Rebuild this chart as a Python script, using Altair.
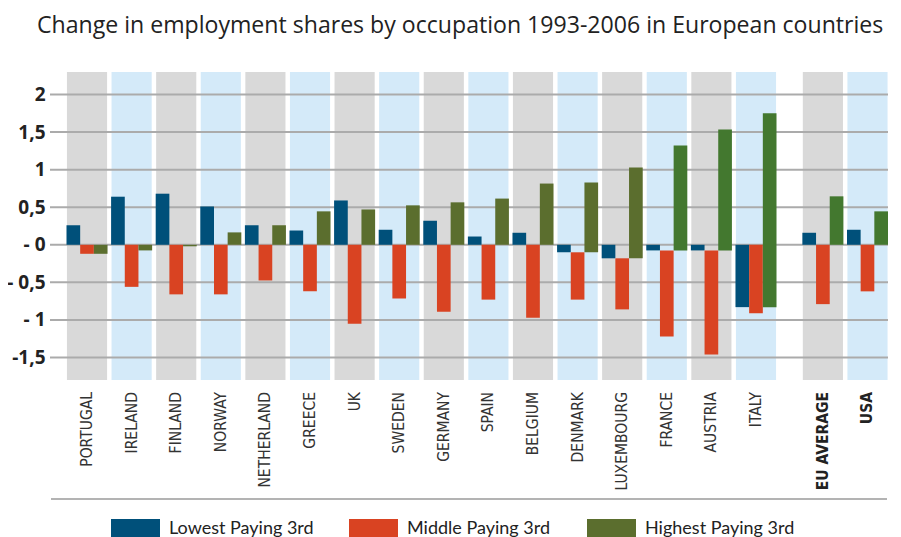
import altair as alt
import pandas as pd

# ---------------- data ----------------
countries = ["PORTUGAL", "IRELAND", "FINLAND", "NORWAY", "NETHERLAND", "GREECE", "UK",
             "SWEDEN", "GERMANY", "SPAIN", "BELGIUM", "DENMARK", "LUXEMBOURG", "FRANCE",
             "AUSTRIA", "ITALY"]
comparisons = ["EU AVERAGE", "USA"]
series = ["Lowest Paying 3rd", "Middle Paying 3rd", "Highest Paying 3rd"]

lowest = [0.26, 0.64, 0.68, 0.51, 0.26, 0.19, 0.59, 0.20, 0.32, 0.11, 0.16, -0.10, -0.18,
          -0.075, -0.075, -0.83, 0.16, 0.20]
middle = [-0.12, -0.56, -0.66, -0.66, -0.475, -0.62, -1.05, -0.715, -0.89, -0.73, -0.97,
          -0.73, -0.86, -1.22, -1.46, -0.91, -0.79, -0.62]
highest = [-0.12, -0.075, -0.02, 0.165, 0.26, 0.445, 0.47, 0.525, 0.565, 0.615, 0.815,
           0.83, 1.03, 1.32, 1.535, 1.75, 0.645, 0.445]
# where the middle / highest bars start (the original chart starts some of them below zero)
middle_base = [0, 0, 0, 0, 0, 0, 0, 0, 0, 0, 0, -0.10, -0.18, -0.075, -0.075, 0, 0, 0]
highest_base = [0, 0, 0, 0, 0, 0, 0, 0, 0, 0, 0, -0.10, -0.18, -0.075, -0.075, -0.83, 0, 0]

y_ticks = [2, 1.5, 1, 0.5, 0, -0.5, -1, -1.5]
y_tick_labels = ["2", "1,5", "1", "0,5", "- 0", "- 0,5", "- 1", "-1,5"]

title_text = "Change in employment shares by occupation 1993-2006 in European countries"

# ---------------- styling / layout ----------------
W, H = 838, 308
Y_DOMAIN = [-1.8, 2.3]
X_DOMAIN = [-0.83, 17.96]
GROUP_GAP = 0.5
COL_HALF = 0.45
BAR_HALF = 0.46
BLUE, RED, OLIVE, GREEN = "#00507a", "#d94322", "#5b6e2e", "#43782f"
BG_GRAY, BG_BLUE = "#d9d9d9", "#d4eaf9"
greener_highest = ["FRANCE", "AUSTRIA", "ITALY", "EU AVERAGE", "USA"]
LABEL_FONT = "Liberation Sans Narrow, DejaVu Sans Condensed, Roboto, sans-serif"

names = countries + comparisons
pos = list(range(len(countries))) + [len(countries) + GROUP_GAP + i for i in range(len(comparisons))]
shade = [i % 2 for i in range(len(countries))] + [i % 2 for i in range(len(comparisons))]

bg_df = pd.DataFrame({
    "country": names, "pos": pos,
    "shade": ["a" if s == 0 else "b" for s in shade],
    "x0": [p - COL_HALF for p in pos], "x1": [p + COL_HALF for p in pos],
    "top": [Y_DOMAIN[1]] * len(names), "bottom": [Y_DOMAIN[0]] * len(names),
})

bar_w = 2 * BAR_HALF / 3
rows = []
for i, name in enumerate(names):
    vals = [lowest[i], middle[i], highest[i]]
    bases = [0, middle_base[i], highest_base[i]]
    for k, s in enumerate(series):
        key = s
        if k == 2 and name in greener_highest:
            key = "Highest Paying 3rd (alt)"
        x0 = pos[i] - BAR_HALF + k * bar_w
        rows.append(dict(country=name, series=s, key=key, value=vals[k], base=bases[k],
                         x0=x0, x1=x0 + bar_w))
bars_df = pd.DataFrame(rows)

label_df = pd.DataFrame({"country": names, "pos": pos,
                         "bold": [False] * len(countries) + [True] * len(comparisons)})
grid_df = pd.DataFrame({"tick": y_ticks})

xs = alt.Scale(domain=X_DOMAIN, nice=False, zero=False)
ys = alt.Scale(domain=Y_DOMAIN, nice=False, zero=False)

label_expr = ""
for v, l in zip(y_ticks, y_tick_labels):
    label_expr += f"datum.value == {v} ? '{l}' : "
label_expr += "''"

bg = alt.Chart(bg_df).mark_rect().encode(
    x=alt.X("x0:Q", scale=xs, axis=None),
    x2="x1:Q",
    y=alt.Y("top:Q", scale=ys,
            axis=alt.Axis(values=y_ticks, labelExpr=label_expr, grid=False, domain=False,
                          ticks=False, labelFontSize=19, labelFontWeight="bold",
                          labelColor="#222222", labelPadding=5, title=None,
                          labelFont="Open Sans")),
    y2="bottom:Q",
    color=alt.Color("shade:N", scale=alt.Scale(domain=["a", "b"], range=[BG_GRAY, BG_BLUE]),
                    legend=None),
)

grid = alt.Chart(grid_df).mark_rule(color="#ababab", strokeWidth=2).encode(
    y=alt.Y("tick:Q", scale=ys)
)

bars = alt.Chart(bars_df).mark_rect().encode(
    x=alt.X("x0:Q", scale=xs, axis=None),
    x2="x1:Q",
    y=alt.Y("value:Q", scale=ys),
    y2="base:Q",
    color=alt.Color(
        "key:N",
        scale=alt.Scale(domain=series + ["Highest Paying 3rd (alt)"],
                        range=[BLUE, RED, OLIVE, GREEN]),
        legend=alt.Legend(orient="none", legendX=61, legendY=432, direction="horizontal",
                          values=series, title=None, symbolType="M-1,-0.4H1V0.4H-1Z",
                          symbolSize=2401, symbolStrokeWidth=0, symbolOpacity=1,
                          labelFont="Lato", labelFontSize=18, labelColor="#222222",
                          labelOffset=9, columnPadding=30, gridAlign="all", labelLimit=400),
    ),
)

labels_normal = alt.Chart(label_df[~label_df["bold"]]).mark_text(
    angle=270, align="right", baseline="middle", fontSize=15.5, font=LABEL_FONT,
    color="#333333"
).encode(x=alt.X("pos:Q", scale=xs), y=alt.value(H + 12), text="country:N")

labels_bold = alt.Chart(label_df[label_df["bold"]]).mark_text(
    angle=270, align="right", baseline="middle", fontSize=15.5, font=LABEL_FONT,
    fontWeight="bold", color="#222222"
).encode(x=alt.X("pos:Q", scale=xs), y=alt.value(H + 12), text="country:N")

title = alt.Chart(pd.DataFrame({"t": [title_text]})).mark_text(
    align="left", baseline="alphabetic", fontSize=23.1, font="Open Sans", color="#222222"
).encode(x=alt.value(-13), y=alt.value(-39), text="t:N")

bottom_line = alt.Chart(pd.DataFrame({"t": [0]})).mark_rule(
    color="#9a9a9a", strokeWidth=1.5
).encode(x=alt.value(1), x2=alt.value(W - 1), y=alt.value(427))

chart = alt.layer(bg, grid, bars, labels_normal, labels_bold, title, bottom_line).resolve_scale(
    color="independent"
).properties(
    width=W, height=H,
    autosize=alt.AutoSizeParams(type="none"),
    padding={"left": 42, "top": 64, "right": 5, "bottom": 160},
).configure_view(stroke=None)

chart.save("out.html", embed_options={"renderer": "svg", "actions": False})
